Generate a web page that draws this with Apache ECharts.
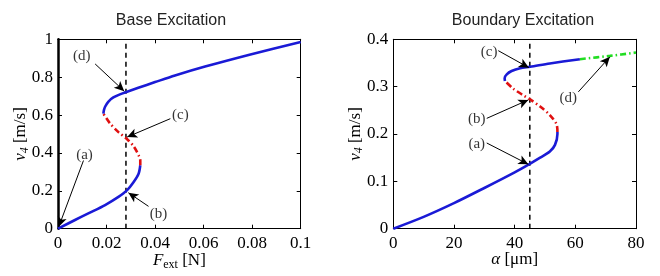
<!DOCTYPE html>
<html><head><meta charset="utf-8">
<script src="https://cdn.jsdelivr.net/npm/echarts@6/dist/echarts.min.js"></script>
<style>html,body{margin:0;padding:0;background:#fff}#c{width:660px;height:276px}</style>
</head><body><div id="c"></div>
<script>
// ---- Data: Base Excitation (F_ext [N], v4 [m/s]) ----
const baseLowerStable = [[0,0],[0.007,0.046],[0.0125,0.081],[0.0194,0.125],[0.0249,0.168],[0.0284,0.202],[0.0311,0.245],[0.0332,0.29],[0.0339,0.335]];
const baseUnstable = [[0.0339,0.335],[0.0339,0.36],[0.0332,0.388],[0.0311,0.436],[0.0284,0.474],[0.0249,0.51],[0.0215,0.555],[0.0187,0.607]];
const baseUpperStable = [[0.0187,0.607],[0.0189,0.625],[0.0194,0.644],[0.0207,0.670],[0.0228,0.693],[0.0255,0.709],[0.0279,0.7205],[0.0331,0.744],[0.040,0.774],[0.0482,0.809],[0.0606,0.856],[0.0793,0.920],[0.1,0.986]];
const baseMarkX = 0.028;
// annotations: [label, labelPos, arrowStart, arrowEnd]
const baseNotes = [
  ['(a)', [0.0109,0.388], [0.0105,0.36], [0.0003,0.01]],
  ['(b)', [0.0414,0.077], [0.0373,0.118], [0.029,0.19]],
  ['(c)', [0.0504,0.598], [0.0463,0.581], [0.0285,0.484]],
  ['(d)', [0.0098,0.914], [0.0153,0.87], [0.0273,0.726]]
];
// ---- Data: Boundary Excitation (alpha [um], v4 [m/s]) ----
const bndLowerStable = [[0,0],[10,0.025],[20,0.054],[30,0.086],[40,0.119],[45,0.137],[48.4,0.150],[51.6,0.163],[53.3,0.177],[54.1,0.2],[54.1,0.204]];
const bndUnstable = [[54.1,0.204],[53.9,0.219],[51.6,0.24],[48.4,0.258],[45.1,0.273],[42.8,0.282],[39.5,0.296],[36.8,0.312]];
const bndUpperStable = [[36.8,0.312],[36.7,0.318],[37.4,0.326],[39,0.333],[41.8,0.339],[45.1,0.342],[51.6,0.349],[61.5,0.358]];
const bndOther = [[61.5,0.358],[71.4,0.365],[80,0.372]];
const bndMarkX = 45;
const bndNotes = [
  ['(a)', [27.5,0.179], [30.8,0.181], [44.5,0.136]],
  ['(b)', [27.5,0.231], [30.8,0.233], [44.5,0.272]],
  ['(c)', [31.6,0.374], [34.6,0.376], [44.7,0.34]],
  ['(d)', [57.7,0.275], [61,0.289], [71.4,0.363]]
];

const SERIF = '"Liberation Serif","DejaVu Serif",serif';
const SANS = '"Liberation Sans",Arial,sans-serif';
const BLUE = '#1a1ad6', RED = '#e01010', GREEN = '#22dd22';

const grids = [
  {left:58, right:359.3, top:39.3, bottom:47.3},
  {left:393.3, right:24, top:39.3, bottom:47.3}
];

function axisCommon(){
  return {
    axisLine:{show:true,onZero:false,lineStyle:{color:'#000',width:1}},
    axisTick:{show:true,inside:true,length:4,lineStyle:{color:'#000'}},
    splitLine:{show:false},
    axisLabel:{color:'#000',fontFamily:SERIF,fontSize:17}
  };
}
const xAxes = [], yAxes = [];
function addAxes(gi, xmax, xint, ymax, yint, xname, yname, leftW, yGap){
  const xa = Object.assign(axisCommon(), {type:'value',gridIndex:gi,min:0,max:xmax,interval:xint,position:'bottom',
    name:xname,nameLocation:'middle',nameGap:22,nameMoveOverlap:false,
    nameTextStyle:{color:'#000',fontFamily:SERIF,fontSize:16,rich:{i:{fontStyle:'italic',fontFamily:SERIF,fontSize:17},s:{fontFamily:SERIF,fontSize:12,padding:[8,0,0,0]},r:{fontFamily:SERIF,fontSize:17}}}});
  xa.axisLabel.margin = 6;
  xa.axisLabel.formatter = v => String(v);
  xAxes.push(xa);
  const xt = Object.assign(axisCommon(), {type:'value',gridIndex:gi,min:0,max:xmax,interval:xint,position:'top',axisLabel:{show:false}});
  xAxes.push(xt);
  const ya = Object.assign(axisCommon(), {type:'value',gridIndex:gi,min:0,max:ymax,interval:yint,position:'left',
    name:yname,nameLocation:'middle',nameGap:yGap,nameRotate:90,nameMoveOverlap:false,
    nameTextStyle:{color:'#000',fontFamily:SERIF,fontSize:16,rich:{i:{fontStyle:'italic',fontFamily:SERIF,fontSize:17},s:{fontStyle:'italic',fontFamily:SERIF,fontSize:12,padding:[8,0,0,0]},r:{fontFamily:SERIF,fontSize:17}}}});
  ya.axisLine.lineStyle.width = leftW;
  ya.axisLabel.margin = 5;
  ya.axisLabel.formatter = v => String(v);
  yAxes.push(ya);
  const yr = Object.assign(axisCommon(), {type:'value',gridIndex:gi,min:0,max:ymax,interval:yint,position:'right',axisLabel:{show:false}});
  yAxes.push(yr);
}
addAxes(0, 0.1, 0.02, 1, 0.2, '{i|F}{s|ext}{r| [N]}', '{i|v}{s|4}{r| [m/s]}', 2.5, 27);
addAxes(1, 80, 20, 0.4, 0.1, '{i|α}{r| [μm]}', '{i|v}{s|4}{r| [m/s]}', 1, 28);

function lineSeries(data, xi, yi, color, type, w){
  let lt = 'solid';
  if (type === 'dashdot') lt = [6,3,1.5,3];
  if (type === 'dashed') lt = [5,4];
  return {type:'line',xAxisIndex:xi,yAxisIndex:yi,data:data,showSymbol:false,symbol:'none',smooth:type==='dashed'?false:0.3,
    lineStyle:{color:color,width:w||2.6,type:lt},z:3,silent:true,animation:false};
}
function noteSeries(notes, xi, yi){
  return [{
    type:'scatter',xAxisIndex:xi,yAxisIndex:yi,symbolSize:0,animation:false,silent:true,
    data:notes.map(n=>({name:n[0],value:n[1]})),
    label:{show:true,position:'inside',formatter:p=>p.name,color:'#000',fontFamily:SERIF,fontSize:15},
    z:5
  },{
    type:'line',xAxisIndex:xi,yAxisIndex:yi,data:[],animation:false,silent:true,
    markLine:{silent:true,animation:false,symbol:['none','arrow'],symbolSize:[7,10],label:{show:false},
      lineStyle:{color:'#000',width:1,type:'solid'},
      data:notes.map(n=>[{coord:n[2]},{coord:n[3]}])},
    z:6
  }];
}

const series = [
  lineSeries([[baseMarkX,0],[baseMarkX,1]],0,0,'#000','dashed',1.5),
  lineSeries([[bndMarkX,0],[bndMarkX,0.4]],2,2,'#000','dashed',1.5),
  lineSeries(baseLowerStable,0,0,BLUE,'solid'),
  lineSeries(baseUnstable,0,0,RED,'dashdot'),
  lineSeries(baseUpperStable,0,0,BLUE,'solid'),
  lineSeries(bndLowerStable,2,2,BLUE,'solid'),
  lineSeries(bndUnstable,2,2,RED,'dashdot'),
  lineSeries(bndUpperStable,2,2,BLUE,'solid'),
  lineSeries(bndOther,2,2,GREEN,'dashdot'),
  ...noteSeries(baseNotes,0,0),
  ...noteSeries(bndNotes,2,2)
];

const chart = echarts.init(document.getElementById('c'), null, {renderer:'canvas'});
chart.setOption({
  animation:false,
  backgroundColor:'#fff',
  title:[
    {text:'Base Excitation',left:166,top:8,textAlign:'center',textStyle:{fontFamily:SANS,fontWeight:'normal',fontSize:16,color:'#222'}},
    {text:'Boundary Excitation',left:518,top:8,textAlign:'center',textStyle:{fontFamily:SANS,fontWeight:'normal',fontSize:16,color:'#222'}}
  ],
  grid:grids,
  xAxis:xAxes,
  yAxis:yAxes,
  series:series
});
</script></body></html>
